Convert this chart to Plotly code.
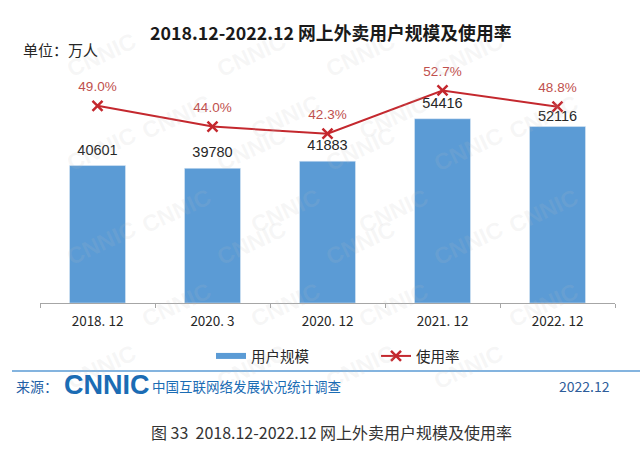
import plotly.graph_objects as go

categories = ["2018. 12", "2020. 3", "2020. 12", "2021. 12", "2022. 12"]
users = [40601, 39780, 41883, 54416, 52116]
rate = [49.0, 44.0, 42.3, 52.7, 48.8]
rate_labels = ["49.0%", "44.0%", "42.3%", "52.7%", "48.8%"]

W, H = 640, 450
L, R, T, B = 40, 25, 66, 147
PW, PH = W - L - R, H - T - B

def px(x):
    return (x - L) / PW

def py(y):
    return (H - B - y) / PH

BLUE = "#5b9bd5"
RED_LINE = "#c4282e"
RED_TEXT = "#c0504d"
CJK = "Noto Sans CJK SC, Microsoft YaHei, sans-serif"
NUM = "Liberation Sans, Arial, Noto Sans CJK SC, sans-serif"

# the last bar's label sits closer to the bar (to clear the line), as in the reference
near = [False, False, False, False, True]
label_txt = [str(v) for v in users]

fig = go.Figure()

fig.add_trace(go.Bar(
    x=categories, y=users, marker_color=BLUE, showlegend=False,
    text=[t if n else "" for t, n in zip(label_txt, near)],
    textposition=["outside" if n else "none" for n in near],
    textfont=dict(size=14.5, color="#262626", family=NUM),
    cliponaxis=False, name="用户规模",
))
# bar value labels
fig.add_trace(go.Scatter(
    x=categories, y=users, mode="markers+text", showlegend=False, hoverinfo="skip",
    text=["" if n else t for t, n in zip(label_txt, near)], textposition="top center",
    textfont=dict(size=14.5, color="#262626", family=NUM),
    marker=dict(size=10, color="rgba(0,0,0,0)"), cliponaxis=False,
))
fig.add_trace(go.Scatter(
    x=[None], y=[None], mode="lines", name="用户规模",
    line=dict(color=BLUE, width=6),
))
fig.add_trace(go.Scatter(
    x=categories, y=rate, yaxis="y2", name="使用率",
    mode="lines+markers",
    line=dict(color=RED_LINE, width=2),
    marker=dict(symbol="x-thin", size=10, line=dict(color=RED_LINE, width=2.5)),
    cliponaxis=False,
))
# rate labels
fig.add_trace(go.Scatter(
    x=categories, y=rate, yaxis="y2", mode="markers+text", showlegend=False, hoverinfo="skip",
    text=rate_labels, textposition="top center",
    textfont=dict(size=13.5, color=RED_TEXT, family=NUM),
    marker=dict(size=16, color="rgba(0,0,0,0)"), cliponaxis=False,
))

annotations = []
# faint watermarks, kept fully inside the canvas
for r in range(7):
    for c in range(4):
        x0 = 60 + c * 150 + (75 if r % 2 else 0)
        y0 = 25 + r * 62
        if x0 > 600:
            continue
        annotations.append(dict(
            text="CNNIC", xref="paper", yref="paper", x=px(x0), y=py(y0),
            showarrow=False, textangle=-25,
            font=dict(size=23, color="rgba(190,190,190,0.13)", family="Liberation Sans, Arial", weight="bold"),
        ))

annotations += [
    dict(text="<b>2018.12-2022.12 网上外卖用户规模及使用率</b>", xref="paper", yref="paper",
         x=px(331), y=py(32), showarrow=False, xanchor="center", yanchor="middle",
         font=dict(size=17.8, color="#1a1a1a", family=CJK)),
    dict(text="单位：万人", xref="paper", yref="paper", x=px(21), y=py(50),
         showarrow=False, xanchor="left", yanchor="middle",
         font=dict(size=15, color="#262626", family=CJK)),
    dict(text="来源：", xref="paper", yref="paper", x=px(14), y=py(386),
         showarrow=False, xanchor="left", yanchor="middle",
         font=dict(size=14, color="#1f5fa6", family=CJK)),
    dict(text="<b>CNNIC</b>", xref="paper", yref="paper", x=px(62), y=py(385),
         showarrow=False, xanchor="left", yanchor="middle",
         font=dict(size=27, color="#1b6cb4", family="Liberation Sans, Arial")),
    dict(text="中国互联网络发展状况统计调查", xref="paper", yref="paper", x=px(150), y=py(386),
         showarrow=False, xanchor="left", yanchor="middle",
         font=dict(size=13.5, color="#1b6cb4", family=CJK)),
    dict(text="2022.12", xref="paper", yref="paper", x=px(612), y=py(386),
         showarrow=False, xanchor="right", yanchor="middle",
         font=dict(size=14, color="#2e5d9a", family=CJK)),
    dict(text="图 33  2018.12-2022.12 网上外卖用户规模及使用率", xref="paper", yref="paper",
         x=px(331), y=py(432), showarrow=False, xanchor="center", yanchor="middle",
         font=dict(size=16, color="#333333", family=CJK)),
]

fig.update_layout(
    width=W, height=H,
    margin=dict(l=L, r=R, t=T, b=B, autoexpand=False),
    paper_bgcolor="white", plot_bgcolor="white",
    bargap=0.513,
    hovermode=False,
    xaxis=dict(showline=True, linecolor="#a6a6a6", linewidth=1, ticks="outside",
               tickson="boundaries", ticklen=4, tickcolor="#a6a6a6", ticklabelstandoff=6,
               tickfont=dict(size=13.5, color="#262626", family="Noto Sans CJK SC, DejaVu Sans Mono"),
               showgrid=False, fixedrange=True, automargin=False),
    yaxis=dict(range=[0, 70000], visible=False, showgrid=False, fixedrange=True),
    yaxis2=dict(range=[1.5, 58.6], overlaying="y", side="right", visible=False, showgrid=False, fixedrange=True),
    legend=dict(orientation="h", x=px(376), y=py(356), xanchor="center", yanchor="middle",
                font=dict(size=14.5, color="#262626", family=CJK), entrywidth=120,
                bgcolor="rgba(0,0,0,0)"),
    shapes=[dict(type="line", xref="paper", yref="paper", x0=px(12), x1=px(640),
                 y0=py(371), y1=py(371), line=dict(color=BLUE, width=1.5))],
    annotations=annotations,
)

fig.write_html("out.html", config={"displayModeBar": False},
               post_script="document.body.style.margin='0';document.body.style.padding='0';")
